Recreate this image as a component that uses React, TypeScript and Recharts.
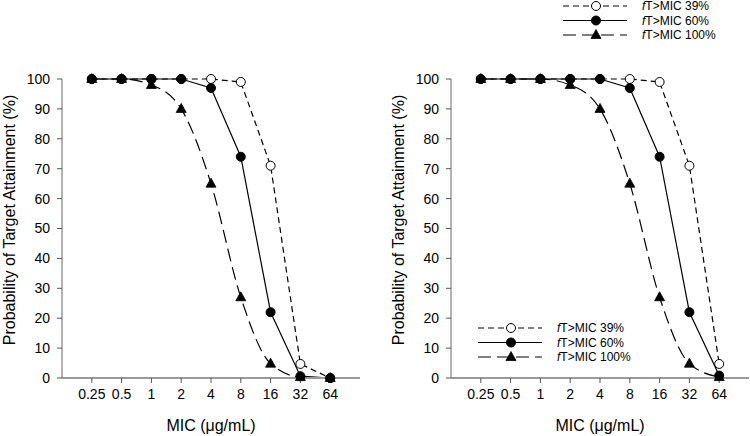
import { LineChart, Line, XAxis, YAxis, Label } from "recharts";

// MIC categories (ug/mL) and tick labels
const micValues: number[] = [0.25, 0.5, 1, 2, 4, 8, 16, 32, 64];
const yTicks: number[] = [0, 10, 20, 30, 40, 50, 60, 70, 80, 90, 100];

// left panel
const leftFt39: number[] = [100, 100, 100, 100, 100, 99, 71, 4.7, 0];
const leftFt60: number[] = [100, 100, 100, 100, 97, 74, 22, 0.6, 0];
const leftFt100: number[] = [100, 100, 98, 90, 65, 27, 4.8, 0.3, 0];

// right panel
const rightFt39: number[] = [100, 100, 100, 100, 100, 100, 99, 71, 4.7];
const rightFt60: number[] = [100, 100, 100, 100, 100, 97, 74, 22, 0.8];
const rightFt100: number[] = [100, 100, 100, 98, 90, 65, 27, 4.8, 0.3];

const FONT = "'Liberation Sans', Arial, sans-serif";

type Marker = "open" | "filled" | "triangle";
type Series = {
  key: string;
  label: string;
  dash?: string;
  marker: Marker;
  curve: "linear" | "monotone";
};

// legend order
const series: Series[] = [
  { key: "ft39", label: "T>MIC 39%", dash: "6 4", marker: "open", curve: "linear" },
  { key: "ft60", label: "T>MIC 60%", marker: "filled", curve: "linear" },
  { key: "ft100", label: "T>MIC 100%", dash: "13 6", marker: "triangle", curve: "monotone" },
];
// drawing order (filled circles on top)
const drawOrder = ["ft39", "ft100", "ft60"];

const makeRows = (a: number[], b: number[], c: number[]) =>
  micValues.map((m, i) => ({ mic: m, ft39: a[i], ft60: b[i], ft100: c[i] }));

const leftData = makeRows(leftFt39, leftFt60, leftFt100);
const rightData = makeRows(rightFt39, rightFt60, rightFt100);

const MarkerShape = ({ cx, cy, type }: { cx: number; cy: number; type: Marker }) => {
  if (type === "triangle") {
    return (
      <path
        d={`M${cx},${cy - 5.5} L${cx + 5},${cy + 3.5} L${cx - 5},${cy + 3.5} Z`}
        fill="#000"
        stroke="#000"
        strokeWidth={0.8}
      />
    );
  }
  return (
    <circle
      cx={cx}
      cy={cy}
      r={4.5}
      fill={type === "open" ? "#fff" : "#000"}
      stroke="#000"
      strokeWidth={1}
    />
  );
};

const LegendBox = ({ left, top }: { left: number; top: number }) => (
  <svg
    width={170}
    height={46}
    style={{ position: "absolute", left, top, overflow: "visible" }}
  >
    {series.map((s, i) => {
      const y = 6 + i * 14.5;
      return (
        <g key={s.key}>
          <line
            x1={0}
            x2={64}
            y1={y}
            y2={y}
            stroke="#000"
            strokeWidth={1.2}
            strokeDasharray={s.dash}
          />
          <MarkerShape cx={33} cy={y} type={s.marker} />
          <text
            x={79}
            y={y}
            dominantBaseline="central"
            fontSize={12}
            fontFamily={FONT}
            fill="#000"
          >
            <tspan fontStyle="italic">f</tspan>
            {s.label}
          </text>
        </g>
      );
    })}
  </svg>
);

const XTitle = (props: any) => {
  const vb = props.viewBox || {};
  return (
    <text
      x={vb.x + vb.width / 2}
      y={vb.y + 47}
      textAnchor="middle"
      dominantBaseline="central"
      fontSize={16}
      fontFamily={FONT}
      fill="#000"
    >
      MIC (μg/mL)
    </text>
  );
};

const YTitle = (props: any) => {
  const vb = props.viewBox || {};
  const x = vb.x + 9;
  const y = 220;
  return (
    <text
      x={x}
      y={y}
      transform={`rotate(-90, ${x}, ${y})`}
      textAnchor="middle"
      dominantBaseline="central"
      fontSize={16}
      fontFamily={FONT}
      fill="#000"
    >
      Probability of Target Attainment (%)
    </text>
  );
};

const Panel = ({ data, width }: { data: any[]; width: number }) => (
  <LineChart
    width={width}
    height={436}
    data={data}
    margin={{ top: 79, right: width === 375 ? 15 : 1, bottom: 0, left: 0 }}
  >
    <XAxis
      dataKey="mic"
      type="number"
      scale="log"
      domain={[0.125, 128]}
      ticks={micValues}
      height={58}
      tickSize={5}
      tickMargin={6}
      axisLine={{ stroke: "#9a9a9a", strokeWidth: 2 }}
      tickLine={{ stroke: "#555" }}
      tick={{ fontSize: 14, fontFamily: FONT, fill: "#000" }}
      interval={0}
    >
      <Label content={<XTitle />} />
    </XAxis>
    <YAxis
      type="number"
      domain={[0, 100]}
      ticks={yTicks}
      width={62}
      tickSize={5}
      tickMargin={7}
      axisLine={{ stroke: "#666", strokeWidth: 1 }}
      tickLine={{ stroke: "#555" }}
      tick={{ fontSize: 14, fontFamily: FONT, fill: "#000" }}
      interval={0}
    >
      <Label content={<YTitle />} />
    </YAxis>
    {drawOrder.map((k) => {
      const s = series.find((x) => x.key === k)!;
      return (
        <Line
          key={k}
          dataKey={k}
          type={s.curve}
          stroke="#000"
          strokeWidth={1.2}
          strokeDasharray={s.dash}
          isAnimationActive={false}
          dot={(p: any) => (
            <MarkerShape key={`${k}-${p.index}`} cx={p.cx} cy={p.cy} type={s.marker} />
          )}
          activeDot={false}
        />
      );
    })}
  </LineChart>
);

export default function App() {
  return (
    <div
      style={{
        position: "absolute",
        left: 0,
        top: 0,
        width: 750,
        height: 436,
        background: "#fff",
        overflow: "hidden",
      }}
    >
      <div style={{ position: "absolute", left: 0, top: 0 }}>
        <Panel data={leftData} width={375} />
      </div>
      <div style={{ position: "absolute", left: 389, top: 0 }}>
        <Panel data={rightData} width={361} />
      </div>
      <LegendBox left={563} top={0} />
      <LegendBox left={478} top={322} />
    </div>
  );
}
